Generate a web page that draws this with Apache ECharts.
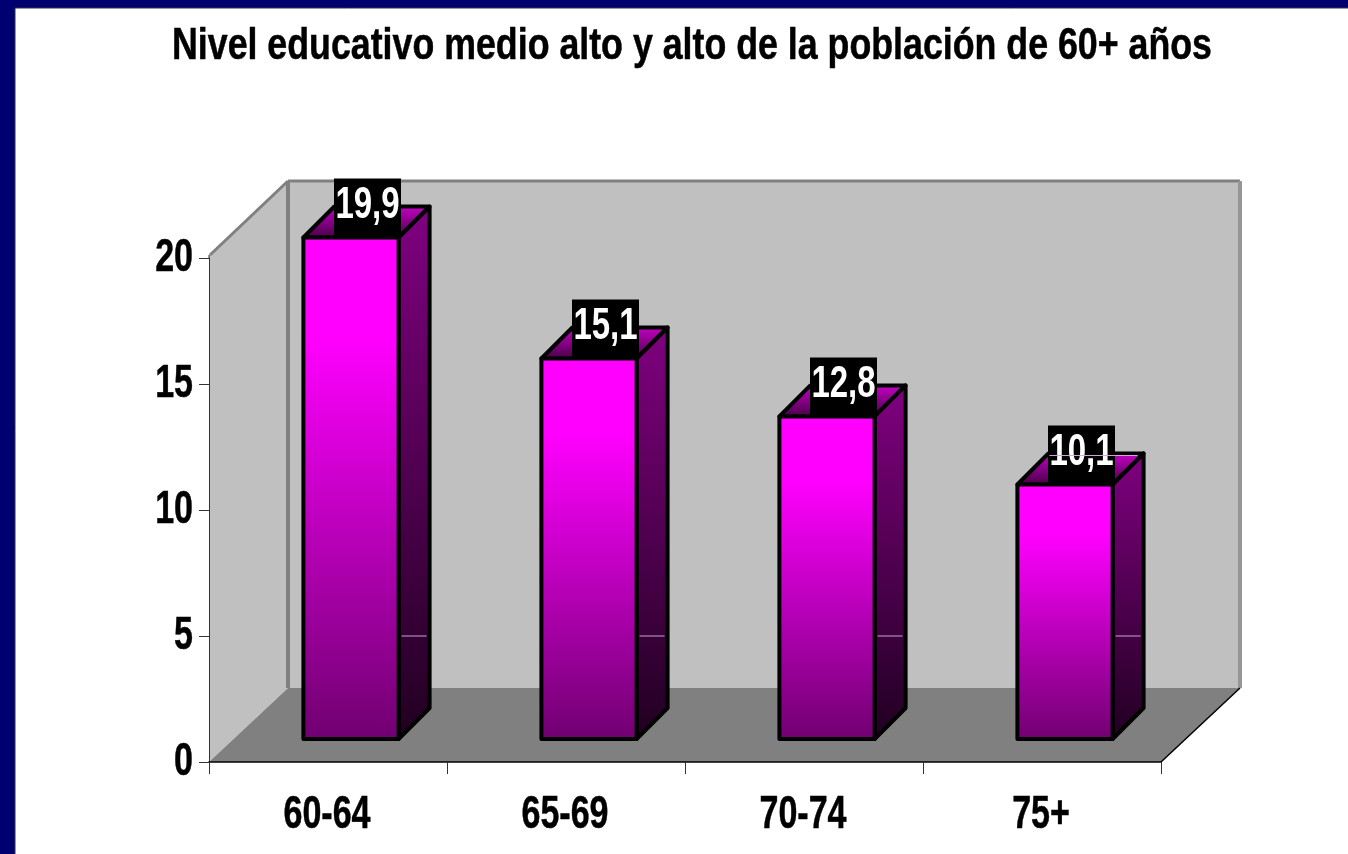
<!DOCTYPE html>
<html>
<head>
<meta charset="utf-8">
<style>
  html, body { margin: 0; padding: 0; background: #000070; }
  #chart { width: 1348px; height: 854px; }
</style>
<script src="https://cdn.jsdelivr.net/npm/echarts@6/dist/echarts.min.js"></script>
</head>
<body>
<div id="chart"></div>
<script>
const titleText = 'Nivel educativo medio alto y alto de la población de 60+ años';
const categories = ['60-64', '65-69', '70-74', '75+'];
const values = [19.9, 15.1, 12.8, 10.1];
const yTicks = [0, 5, 10, 15, 20];

// no narrow arial here, so the bold text gets squeezed with scaleX
const fontName = '"Liberation Sans", Arial, sans-serif';
const labelFont = 'bold 46px ' + fontName;
// depth of the 3d box around the plot and of each bar
const wallDx = 79, wallDy = 74, wallOver = 3, barDepth = 31, barLift = 23, barShift = 23;

function vGrad(stops) {
    return {
        type: 'linear', x: 0, y: 0, x2: 0, y2: 1,
        colorStops: stops.map(function (s) { return {offset: s[0], color: s[1]}; })
    };
}

function renderWalls(params) {
    const g = params.coordSys;
    const l = g.x, r = g.x + g.width, t = g.y - wallOver, b = g.y + g.height;
    const poly = function (points, fill) {
        return {type: 'polygon', shape: {points: points}, style: {fill: fill}};
    };
    const line = function (x1, y1, x2, y2, color, width) {
        return {type: 'line', shape: {x1: x1, y1: y1, x2: x2, y2: y2}, style: {stroke: color, lineWidth: width}};
    };
    return {
        type: 'group',
        children: [
            poly([[l + wallDx, t - wallDy], [r + wallDx, t - wallDy], [r + wallDx, b - wallDy], [l + wallDx, b - wallDy]], '#c0c0c0'),
            poly([[l, t], [l + wallDx, t - wallDy], [l + wallDx, b - wallDy], [l, b]], '#c0c0c0'),
            poly([[l, b], [l + wallDx, b - wallDy], [r + wallDx, b - wallDy], [r, b]], '#808080'),
            line(l + 1, t, l + wallDx, t - wallDy, '#808080', 3),
            line(l + wallDx, t - wallDy, r + wallDx, t - wallDy, '#808080', 3),
            line(l + wallDx, t - wallDy, l + wallDx, b - wallDy, '#808080', 4),
            line(r + wallDx, t - wallDy, r + wallDx, b - wallDy, '#969696', 4),
            line(r, b, r + wallDx, b - wallDy, '#000000', 1.5),
            line(l, t, l, g.y, '#333333', 1)
        ]
    };
}

function renderBar(params, api) {
    const i = api.value(0);
    const v = api.value(1);
    const base = api.coord([i, 0]);
    const top = api.coord([i, v]);
    const w = api.size([1, 0])[0] * 0.4;
    const x0 = base[0] + barShift - w / 2, x1 = x0 + w;
    const y0 = top[1] - barLift, y1 = base[1] - barLift;
    const d = barDepth;
    const edge = {stroke: '#000', lineWidth: 4, lineJoin: 'round'};
    const seam = api.coord([i, 5])[1];
    const boxX = x0 + w / 2 + d / 2 + 1;
    const boxY = y0 - 30;
    const children = [
        {
            type: 'polygon',
            shape: {points: [[x0, y0], [x0 + d, y0 - d], [x1 + d, y0 - d], [x1, y0]]},
            style: Object.assign({fill: vGrad([[0, '#cc00cc'], [1, '#400040']])}, edge)
        },
        {
            type: 'polygon',
            shape: {points: [[x1, y0], [x1 + d, y0 - d], [x1 + d, y1 - d], [x1, y1]]},
            style: Object.assign({fill: vGrad([[0, '#800080'], [1, '#200020']])}, edge)
        },
        {
            type: 'rect',
            shape: {x: x0, y: y0, width: w, height: y1 - y0},
            style: Object.assign({fill: vGrad([[0, '#ff00ff'], [0.2, '#ff00ff'], [1, '#700070']])}, edge)
        },
        {
            type: 'line',
            shape: {x1: x1 + 3, y1: seam, x2: x1 + d - 3, y2: seam},
            style: {stroke: '#c8a8c8', lineWidth: 1}
        },
        {
            type: 'rect',
            z2: 9,
            shape: {x: boxX - 33.5, y: boxY - 29, width: 67, height: 58},
            style: {fill: '#000'}
        },
        {
            type: 'text',
            z2: 10,
            x: boxX,
            y: boxY - 2,
            scaleX: 0.75,
            style: {
                text: String(v).replace('.', ','),
                font: 'bold 44px ' + fontName,
                fill: '#fff',
                align: 'center',
                verticalAlign: 'middle'
            }
        }
    ];
    // stray hairline on the top face of the last bar, it is in the picture too
    if (i === categories.length - 1) {
        children.push({
            type: 'line',
            z2: 11,
            shape: {x1: x0 + 32, y1: y0 - 29, x2: x1 + d - 6, y2: y0 - 29},
            style: {stroke: '#d8a8d8', lineWidth: 1}
        });
    }
    return {type: 'group', children: children};
}

function renderYLabel(params, api) {
    const p = api.coord([0, api.value(0)]);
    return {
        type: 'text',
        x: params.coordSys.x - 16,
        y: p[1],
        scaleX: 0.74,
        style: {text: String(api.value(0)), font: labelFont, fill: '#000', stroke: '#000', lineWidth: 0.5, align: 'right', verticalAlign: 'middle'}
    };
}

function renderXLabel(params, api) {
    const i = api.value(0);
    const p = api.coord([i, 0]);
    return {
        type: 'text',
        x: p[0] - 1,
        y: p[1] + 53,
        scaleX: 0.74,
        style: {text: categories[i], font: labelFont, fill: '#000', stroke: '#000', lineWidth: 0.5, align: 'center', verticalAlign: 'middle'}
    };
}

const chart = echarts.init(document.getElementById('chart'));
chart.setOption({
    backgroundColor: '#000070',
    animation: false,
    graphic: [
        {
            type: 'rect',
            z: -1,
            shape: {x: 15, y: 8, width: 1345, height: 858},
            style: {fill: '#fff', stroke: '#303040', lineWidth: 1}
        },
        {
            type: 'text',
            x: 692,
            y: 47,
            scaleX: 0.8125,
            style: {text: titleText, font: 'bold 44px ' + fontName, fill: '#000', stroke: '#000', lineWidth: 0.5, align: 'center', verticalAlign: 'middle'}
        }
    ],
    grid: {left: 209, right: 187, top: 258, bottom: 92},
    xAxis: {
        type: 'category',
        data: categories,
        z: 5,
        axisLine: {lineStyle: {color: '#000', width: 1.5}},
        axisTick: {show: true, length: 12, lineStyle: {color: '#333', width: 1}},
        axisLabel: {show: false}
    },
    yAxis: {
        type: 'value',
        min: yTicks[0],
        max: yTicks[yTicks.length - 1],
        interval: 5,
        z: 5,
        splitLine: {show: false},
        axisLine: {show: true, lineStyle: {color: '#333', width: 1}},
        axisTick: {show: true, length: 10, lineStyle: {color: '#333', width: 1}},
        axisLabel: {show: false}
    },
    series: [
        {
            type: 'custom',
            name: 'walls',
            z: 1,
            silent: true,
            renderItem: renderWalls,
            data: [[0, 0]]
        },
        {
            type: 'custom',
            name: 'bars',
            z: 3,
            renderItem: renderBar,
            encode: {x: 0, y: 1},
            data: values.map(function (v, i) { return [i, v]; })
        },
        {
            type: 'custom',
            name: 'yLabels',
            z: 4,
            silent: true,
            renderItem: renderYLabel,
            encode: {y: 0},
            data: yTicks.map(function (t) { return [t]; })
        },
        {
            type: 'custom',
            name: 'xLabels',
            z: 4,
            silent: true,
            renderItem: renderXLabel,
            encode: {x: 0},
            data: categories.map(function (c, i) { return [i]; })
        }
    ]
});
</script>
</body>
</html>
